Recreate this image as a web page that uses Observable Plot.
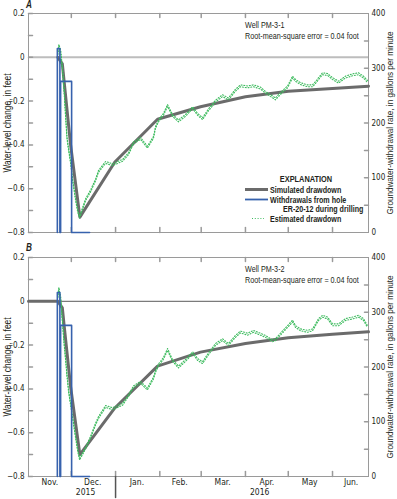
<!DOCTYPE html>
<html><head><meta charset="utf-8">
<script src="https://cdn.jsdelivr.net/npm/d3@7"></script>
<script src="https://cdn.jsdelivr.net/npm/@observablehq/plot@0.6"></script>
<style>
body{margin:0;background:#fff;}
#chart{position:relative;width:397px;height:499px;overflow:hidden;background:#fff;
 font-family:"Liberation Sans",Arial,sans-serif;color:#231f20}
.layer{position:absolute;left:0}
.t{position:absolute;white-space:nowrap;line-height:1}
</style></head><body><div id="chart"></div><script>
// ---------- data ----------
const xDomain = ["2015-11-01T00:00", "2016-06-26T05:00"];
const yDomainFt = [-0.8, 0.2];
const yDomainRate = [0, 400];
const ftTicks = [0.2, 0, -0.2, -0.4, -0.6, -0.8];
const ftMinorTicks = [0.2, 0.1, 0, -0.1, -0.2, -0.3, -0.4, -0.5, -0.6, -0.7, -0.8];
const rateTicks = [0, 100, 200, 300, 400];
const rateMinorTicks = [50, 100, 150, 200, 250, 300, 350];
const monthStarts = ["2015-12-01", "2016-01-01", "2016-02-01", "2016-03-01", "2016-04-01", "2016-05-01", "2016-06-01"];
const monthLabelDates = ["2015-11-16", "2015-12-16", "2016-01-16", "2016-02-15", "2016-03-16", "2016-04-16", "2016-05-16", "2016-06-14"];
const monthLabels = ["Nov.", "Dec.", "Jan.", "Feb.", "Mar.", "Apr.", "May", "Jun."];
const yearLabelDates = ["2015-12-11", "2016-04-11"];
const yearLabels = ["2015", "2016"];
const yearDivider = ["2016-01-01"];

// simulated drawdown, feet
const simTimes = ["2015-11-01T00:00","2015-11-21T14:00","2015-11-24T17:00","2015-11-25T19:00","2015-11-30T12:00","2015-12-07T00:00","2015-12-31T12:00","2016-01-30T10:00","2016-02-29T12:00","2016-04-01T00:00","2016-05-01T00:00","2016-06-01T00:00","2016-06-26T05:00"];
const simA = [null, 0, -0.03, -0.10, -0.40, -0.73, -0.478, -0.283, -0.226, -0.180, -0.155, -0.142, -0.132];
const simB = [0, 0, -0.03, -0.10, -0.39, -0.70, -0.487, -0.296, -0.232, -0.193, -0.166, -0.150, -0.139];

// estimated drawdown, feet
const estTimes = ["2015-11-21T10:00","2015-11-22T07:00","2015-11-22T19:00","2015-11-23T12:00","2015-11-24T22:00","2015-11-25T22:00","2015-11-27T00:00","2015-11-28T00:00","2015-11-29T02:00","2015-11-30T12:00",
"2015-12-01T22:00","2015-12-04T00:00","2015-12-05T10:00","2015-12-06T19:00","2015-12-11T00:00","2015-12-14T12:00","2015-12-18T00:00","2015-12-20T02:00","2015-12-25T00:00","2015-12-29T22:00",
"2016-01-05T22:00","2016-01-10T02:00","2016-01-13T14:00","2016-01-18T12:00","2016-01-23T07:00","2016-01-27T14:00","2016-01-29T00:00","2016-01-31T02:00","2016-02-03T14:00","2016-02-06T10:00",
"2016-02-09T22:00","2016-02-14T02:00","2016-02-19T00:00","2016-02-24T00:00","2016-02-27T10:00","2016-03-01T22:00","2016-03-06T02:00","2016-03-11T00:00","2016-03-15T22:00","2016-03-20T02:00",
"2016-03-25T00:00","2016-03-28T12:00","2016-04-02T10:00","2016-04-06T14:00","2016-04-11T12:00","2016-04-15T00:00","2016-04-19T22:00","2016-04-22T00:00","2016-04-25T12:00","2016-04-30T12:00",
"2016-05-04T00:00","2016-05-06T02:00","2016-05-09T14:00","2016-05-14T12:00","2016-05-18T00:00","2016-05-20T02:00","2016-05-22T05:00","2016-05-25T00:00","2016-05-28T12:00","2016-06-01T00:00",
"2016-06-05T05:00","2016-06-10T02:00","2016-06-15T00:00","2016-06-19T05:00","2016-06-22T17:00","2016-06-25T12:00"];
const estA = [0.01, 0.055, 0.045, 0.03, -0.06, -0.15, -0.27, -0.37, -0.42, -0.48,
 -0.56, -0.65, -0.70, -0.73, -0.65, -0.61, -0.56, -0.52, -0.48, -0.49,
 -0.47, -0.44, -0.39, -0.37, -0.41, -0.365, -0.32, -0.29, -0.26, -0.22,
 -0.265, -0.29, -0.265, -0.23, -0.26, -0.28, -0.24, -0.20, -0.175, -0.19,
 -0.15, -0.13, -0.135, -0.13, -0.14, -0.16, -0.18, -0.19, -0.165, -0.135,
 -0.09, -0.105, -0.12, -0.13, -0.13, -0.115, -0.097, -0.075, -0.078, -0.097,
 -0.113, -0.09, -0.08, -0.075, -0.09, -0.11];
const estB = [0.015, 0.06, 0.04, 0.02, -0.105, -0.19, -0.265, -0.34, -0.41, -0.47,
 -0.53, -0.62, -0.68, -0.72, -0.67, -0.62, -0.56, -0.53, -0.48, -0.49,
 -0.47, -0.43, -0.39, -0.37, -0.40, -0.35, -0.32, -0.29, -0.26, -0.22,
 -0.27, -0.30, -0.27, -0.235, -0.265, -0.28, -0.24, -0.197, -0.175, -0.197,
 -0.16, -0.14, -0.15, -0.137, -0.15, -0.16, -0.18, -0.175, -0.15, -0.115,
 -0.09, -0.115, -0.13, -0.137, -0.13, -0.107, -0.083, -0.068, -0.076, -0.107,
 -0.107, -0.083, -0.076, -0.068, -0.083, -0.115];

// withdrawals from hole ER-20-12, gallons per minute (step changes)
const wTimes = ["2015-11-21T05:00","2015-11-21T05:00","2015-11-23T00:00","2015-11-23T12:00","2015-12-01T05:00","2015-12-13T19:00"];
const wRates = [0, 336, 0, 276, 0, 0];

const panels = [
  {letter: "A", well: "Well PM-3-1", rmse: "Root-mean-square error = 0.04 foot", sim: simA, est: estA, top: 0, height: 245, mb: 13, zeroStroke: "#bdbdbd", zeroWidth: 2, bottomLabels: false, legend: true},
  {letter: "B", well: "Well PM-3-2", rmse: "Root-mean-square error = 0.04 foot", sim: simB, est: estB, top: 244, height: 255, mb: 23, zeroStroke: "#5a5a5a", zeroWidth: 1, bottomLabels: true, legend: false}
];

// ---------- drawing ----------
const SVGFONT = '"Liberation Sans Narrow","Arial Narrow","DejaVu Sans Condensed",sans-serif';
const NARROW = 0.82;
const parse = s => new Date(s + (s.length === 10 ? "T00:00Z" : "Z"));
const chart = document.getElementById("chart");
const W = 397, ML = 28, MR = 29, MT = 13;
const GRAY = "#6b6b6b", BLUE = "#3762ad", GREEN = "#3dbb5e", AXIS = "#9a9a9a";
const tickShape = {draw(ctx, l) { ctx.moveTo(0, 0); ctx.lineTo(0, -l); }};
const x0 = parse(xDomain[0]), x1 = parse(xDomain[1]);

function addText(str, x, y, css, mode) {
  const d = document.createElement("div");
  d.className = "t";
  d.textContent = str;
  d.style.left = x + "px"; d.style.top = y + "px";
  if (mode === "center") {
    d.style.transform = `translate(-50%,-50%) scaleX(${NARROW})`;
  } else if (mode === "vertical") {
    d.style.transform = `translate(-50%,-50%) rotate(-90deg) scaleX(${NARROW})`;
  } else {
    d.style.transformOrigin = "0 50%";
    d.style.transform = `translate(0,-50%) scaleX(${NARROW})`;
  }
  Object.assign(d.style, css || {});
  chart.appendChild(d);
  return d;
}
function addLayer(svg, top) {
  svg.classList.add("layer");
  svg.style.top = top + "px";
  chart.appendChild(svg);
}

panels.forEach(p => {
  const sim = simTimes.map((t, i) => ({t: parse(t), v: p.sim[i]}));
  const est = estTimes.map((t, i) => ({t: parse(t), v: p.est[i]}));
  const wd = wTimes.map((t, i) => ({t: parse(t), r: wRates[i]}));
  const months = monthStarts.map(parse);
  const common = {
    width: W, height: p.height, marginLeft: ML, marginRight: MR, marginTop: MT, marginBottom: p.mb,
    style: {background: "transparent", fontFamily: SVGFONT, fontSize: "8px", color: "#231f20", overflow: "visible"}
  };

  // feet layer
  const ftMarks = [
    Plot.ruleY([0], {stroke: p.zeroStroke, strokeWidth: p.zeroWidth}),
    Plot.frame({stroke: AXIS}),
    Plot.vector(ftMinorTicks, {x: () => x0, y: d => d, length: 4, rotate: 90, anchor: "start", shape: tickShape, stroke: AXIS}),
    Plot.vector(months, {x: d => d, y: () => 0.2, length: 4, rotate: 180, anchor: "start", shape: tickShape, stroke: AXIS}),
    Plot.vector(months, {x: d => d, y: () => -0.8, length: 5, rotate: 0, anchor: "start", shape: tickShape, stroke: AXIS}),
    Plot.axisY({ticks: ftTicks, tickSize: 0, tickPadding: 4, label: null, fontSize: 8,
      tickFormat: d => d === 0 ? "0" : d3.format(".1f")(d)}),
    Plot.line(sim, {x: "t", y: "v", stroke: GRAY, strokeWidth: 3}),
    Plot.line(est, {x: "t", y: "v", stroke: GREEN, strokeWidth: 1.1, strokeDasharray: "1 1.8", dy: -0.9}),
    Plot.line(est, {x: "t", y: "v", stroke: GREEN, strokeWidth: 1.1, strokeDasharray: "1 1.8", strokeDashoffset: 1.4, dy: 1})
  ];
  if (p.bottomLabels) {
    const ml = monthLabelDates.map((d, i) => ({t: parse(d), label: monthLabels[i]}));
    const yl = yearLabelDates.map((d, i) => ({t: parse(d), label: yearLabels[i]}));
    ftMarks.push(
      Plot.text(ml, {x: "t", y: () => -0.8, text: "label", lineAnchor: "top", dy: 2.5, fontSize: 8.5, fill: "#231f20"}),
      Plot.text(yl, {x: "t", y: () => -0.8, text: "label", lineAnchor: "top", dy: 12, fontSize: 8.5, fill: "#231f20"}),
      Plot.vector(yearDivider.map(parse), {x: d => d, y: () => -0.8, length: 21, rotate: 180, anchor: "start", shape: tickShape, stroke: "#555"})
    );
  }
  const ftSvg = Plot.plot({...common,
    x: {type: "utc", domain: [x0, x1], axis: null},
    y: {domain: yDomainFt},
    marks: ftMarks});
  addLayer(ftSvg, p.top);

  // rate layer
  const rateSvg = Plot.plot({...common,
    x: {type: "utc", domain: [x0, x1], axis: null},
    y: {domain: yDomainRate},
    marks: [
      Plot.vector(rateMinorTicks, {x: () => x1, y: d => d, length: 4, rotate: -90, anchor: "start", shape: tickShape, stroke: AXIS}),
      Plot.axisY({anchor: "right", ticks: rateTicks, tickSize: 0, tickPadding: 3, label: null, fontSize: 8}),
      Plot.line(wd, {x: "t", y: "r", curve: "step-after", stroke: BLUE, strokeWidth: 1.6})
    ]});
  addLayer(rateSvg, p.top);

  // texts
  const top = p.top + MT;
  const bottom = p.top + p.height - p.mb;
  const cy = (top + bottom) / 2;
  addText(p.letter, 29, p.top + (p.letter === "A" ? 5 : 4), {fontWeight: "bold", fontStyle: "italic", fontSize: "10px"}, "center");
  addText(p.well, 245, top + 12, {fontSize: "8.8px"});
  addText(p.rmse, 245, top + 23, {fontSize: "8.8px"});
  addText("Water-level change, in feet", 8, cy, {fontSize: "10.2px"}, "vertical");
  addText("Groundwater-withdrawal rate, in gallons per minute", 390, cy, {fontSize: "9.9px"}, "vertical");

  if (p.legend) {
    const b = {fontWeight: "bold", fontSize: "8.7px"};
    addText("EXPLANATION", 306, 179, {fontWeight: "bold", fontSize: "9px"}, "center");
    addText("Simulated drawdown", 270, 189.5, b);
    addText("Withdrawals from hole", 270, 199.5, b);
    addText("ER-20-12 during drilling", 283, 209, b);
    addText("Estimated drawdown", 270, 218.5, b);
    const ns = "http://www.w3.org/2000/svg";
    const lg = document.createElementNS(ns, "svg");
    lg.setAttribute("width", W); lg.setAttribute("height", 499);
    lg.style.position = "absolute"; lg.style.left = "0"; lg.style.top = "0";
    [[245, 268, 189.5, GRAY, 3, null], [245, 268, 199.5, BLUE, 1.8, null], [252, 264, 218.5, GREEN, 1.2, "1 1.8"]].forEach(([a, c, y, s, w, da]) => {
      const ln = document.createElementNS(ns, "line");
      ln.setAttribute("x1", a); ln.setAttribute("x2", c); ln.setAttribute("y1", y); ln.setAttribute("y2", y);
      ln.setAttribute("stroke", s); ln.setAttribute("stroke-width", w);
      if (da) ln.setAttribute("stroke-dasharray", da);
      lg.appendChild(ln);
    });
    chart.appendChild(lg);
  }
});
</script></body></html>
